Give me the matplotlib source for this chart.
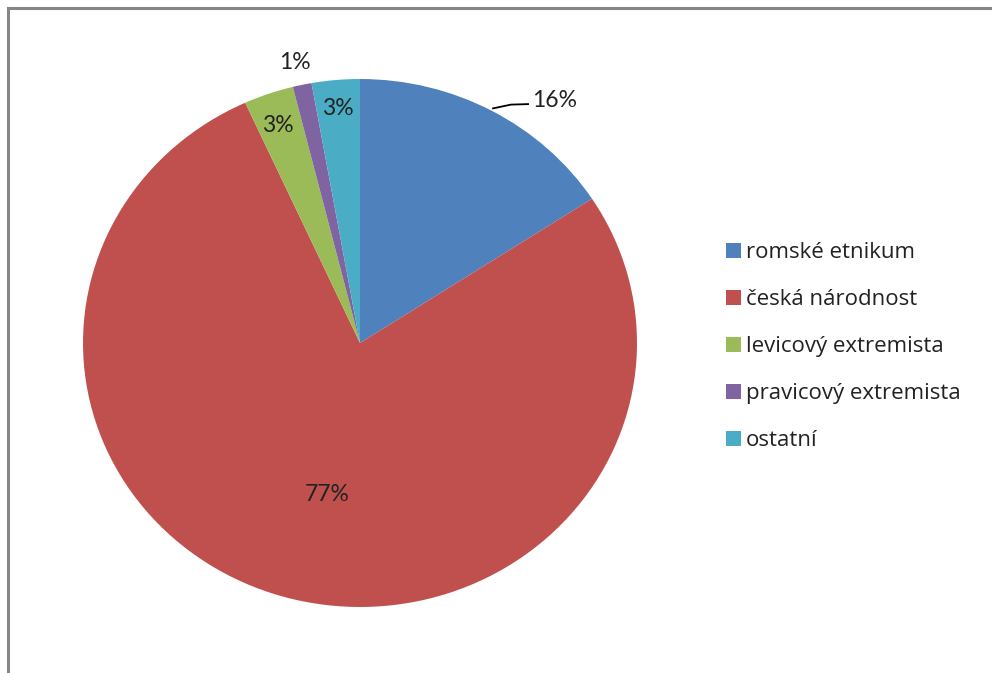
import matplotlib
matplotlib.use("Agg")
import matplotlib.pyplot as plt
from matplotlib.patches import Rectangle

labels = ["romské etnikum", "česká národnost", "levicový extremista",
          "pravicový extremista", "ostatní"]
values = [15.8, 77.4, 2.9, 1.1, 2.8]
pct_text = ["16%", "77%", "3%", "1%", "3%"]
colors = ["#4F81BD", "#C0504D", "#9BBB59", "#8064A2", "#4BACC6"]

# label positions in pie data units (x, y)
label_pos = [(0.62, 0.92), (-0.12, -0.572), (-0.296, 0.822),
             (-0.235, 1.061), (-0.079, 0.890)]

plt.rcParams["font.family"] = ["Lato", "DejaVu Sans"]

W, H = 992, 673
fig = plt.figure(figsize=(W / 100, H / 100), dpi=100)
fig.patch.set_facecolor("white")

# pie is slightly elliptical in the original
cx, cy, rx, ry = 360, 343, 277, 264
ax = fig.add_axes([(cx - rx) / W, (H - cy - ry) / H, 2 * rx / W, 2 * ry / H])
wedges, _ = ax.pie(values, colors=colors, startangle=90, counterclock=False,
                   radius=1, wedgeprops=dict(linewidth=0))
ax.set_aspect("auto")
ax.set_xlim(-1, 1)
ax.set_ylim(-1, 1)
ax.axis("off")

for (x, y), t, i in zip(label_pos, pct_text, range(len(values))):
    ha = "left" if i == 0 else "center"
    ax.text(x, y, t, ha=ha, va="center", fontsize=16.5, color="#222222")

# leader line for 16%
ax.plot([0.477, 0.545, 0.61], [0.888, 0.903, 0.905], color="black", lw=1.3,
        solid_capstyle="butt")

leg = fig.legend(wedges, labels, loc="center left",
                 bbox_to_anchor=(717 / W, 1 - 346.5 / H), frameon=False,
                 prop=dict(family=["Open Sans", "DejaVu Sans"], size=16),
                 handlelength=0.66, handleheight=0.66,
                 handletextpad=0.25, labelspacing=1.17, borderaxespad=0)
for t in leg.get_texts():
    t.set_color("#222222")

# chart area border (cut off at right and bottom)
fig.patches.append(Rectangle((7.5 / W, -0.1), 1.2, 1 - 8.5 / H + 0.1,
                             transform=fig.transFigure, fill=False,
                             edgecolor="#878787", linewidth=2.2))

fig.savefig("out.png", dpi=100)
